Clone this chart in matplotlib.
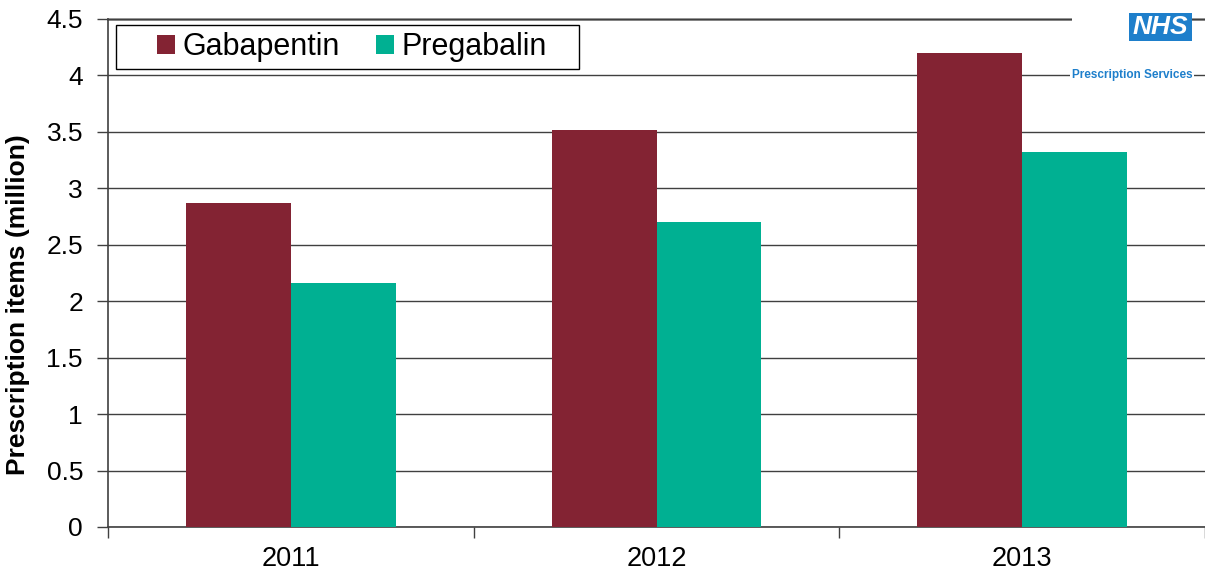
import matplotlib.pyplot as plt
import numpy as np
from matplotlib.patches import Rectangle

plt.rcParams['font.family'] = ['Liberation Sans', 'DejaVu Sans']

years = ["2011", "2012", "2013"]
gabapentin = [2.87, 3.52, 4.20]
pregabalin = [2.16, 2.70, 3.32]

col_gaba = "#832333"
col_preg = "#00B092"
nhs_blue = "#1E7FCB"

W, H = 1205, 572
fig = plt.figure(figsize=(W/100, H/100), dpi=100)
ax = fig.add_axes([108/W, 1 - 527/H, 1 - 108/W, (527 - 19)/H])

x = np.arange(len(years))
w = 0.287
ax.bar(x - w/2, gabapentin, w, color=col_gaba, label="Gabapentin", zorder=3)
ax.bar(x + w/2, pregabalin, w, color=col_preg, label="Pregabalin", zorder=3)

ax.set_xlim(-0.5, len(years) - 0.5)
ax.set_ylim(0, 4.5)
ax.set_yticks(np.arange(0, 4.51, 0.5))
ax.set_yticklabels(["0", "0.5", "1", "1.5", "2", "2.5", "3", "3.5", "4", "4.5"])
ax.set_xticks(x)
ax.set_xticklabels(years)
ax.set_xticks(np.arange(-0.5, len(years), 1), minor=True)
ax.tick_params(axis="x", which="major", length=0, pad=14, labelsize=19.5)
ax.tick_params(axis="x", which="minor", length=8, width=1, color="#404040")
ax.tick_params(axis="y", length=8, width=1, color="#404040", pad=10, labelsize=19)

ax.yaxis.grid(True, color="#404040", linewidth=1, zorder=0)
for s in ["top", "right"]:
    ax.spines[s].set_visible(False)
for s in ["left", "bottom"]:
    ax.spines[s].set_color("#404040")
    ax.spines[s].set_linewidth(1.2)
ax.axhline(4.5, color="#8a8a8a", linewidth=2, zorder=1, clip_on=False)

ax.set_ylabel("Prescription items (million)", fontsize=19, fontweight="bold")
ax.yaxis.label.set_va("center")
ax.yaxis.set_label_coords((18 - 108)/(W - 108), (527 - 305)/508)

# legend: frame drawn separately, entries centred inside it
fig.patches.append(Rectangle((116/W, 1 - 69/H), (579 - 116)/W, 44/H,
                             transform=fig.transFigure, facecolor="white",
                             edgecolor="black", linewidth=1, zorder=4))
leg = fig.legend(*ax.get_legend_handles_labels(), loc="center",
                 bbox_to_anchor=(352/W, 1 - 47/H), ncol=2, fontsize=22,
                 frameon=False, handlelength=0.58, handleheight=0.58,
                 handletextpad=0.25, columnspacing=1.2, borderpad=0)
leg.set_zorder(5)

# NHS logo
fig.patches.append(Rectangle((1072/W, 1 - 46/H), 120/W, 40/H,
                             transform=fig.transFigure, facecolor="white",
                             edgecolor="none", zorder=5))
fig.patches.append(Rectangle((1129/W, 1 - 41/H), 63/W, 28/H,
                             transform=fig.transFigure, facecolor=nhs_blue,
                             edgecolor="none", zorder=6))
fig.text(1160.5/W, 1 - 27/H, "NHS", color="white", fontsize=19,
         fontweight="bold", style="italic", ha="center", va="center", zorder=7)
fig.text(1132/W, 1 - 75/H, "Prescription Services", color=nhs_blue, fontsize=8.5,
         fontweight="bold", ha="center", va="center", zorder=7,
         bbox=dict(facecolor="white", edgecolor="none", pad=1))

fig.savefig("out.png", dpi=100)
